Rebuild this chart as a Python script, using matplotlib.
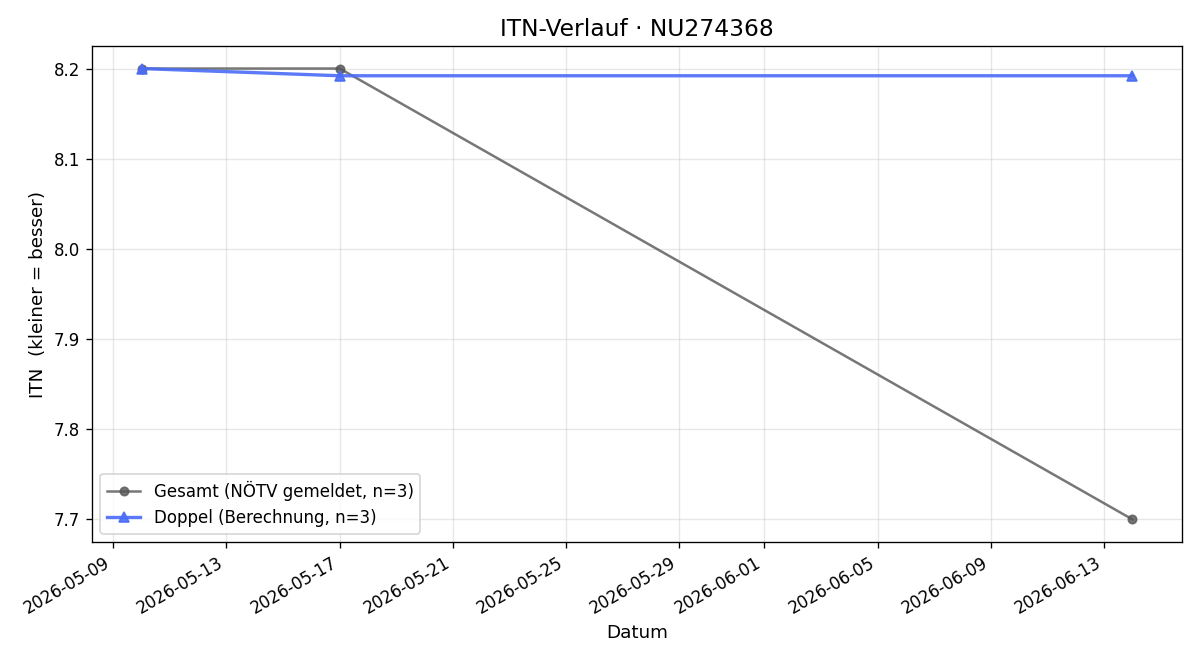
import matplotlib
matplotlib.use("Agg")
import matplotlib.pyplot as plt
import pandas as pd

dates = pd.to_datetime(["2026-05-10", "2026-05-17", "2026-06-14"])
gesamt = [8.2, 8.2, 7.7]
doppel = [8.2, 8.192, 8.192]

fig, ax = plt.subplots(figsize=(10, 5.5), dpi=120)
ax.plot(dates, gesamt, marker="o", color="#555555", alpha=0.8, linewidth=1.5,
        markersize=5, label="Gesamt (NÖTV gemeldet, n=3)")
ax.plot(dates, doppel, marker="^", color="#4a6cf7", alpha=0.9, linewidth=2.0,
        markersize=6, label="Doppel (Berechnung, n=3)")
ax.set_title("ITN-Verlauf · NU274368", fontsize=14)
ax.set_xlabel("Datum", fontsize=11)
ax.set_ylabel("ITN  (kleiner = besser)", fontsize=11)
ax.tick_params(labelsize=10)
ax.grid(True, alpha=0.3)
ax.legend(loc="lower left", fontsize=10)
fig.autofmt_xdate()
fig.tight_layout()
fig.savefig("out.png")
